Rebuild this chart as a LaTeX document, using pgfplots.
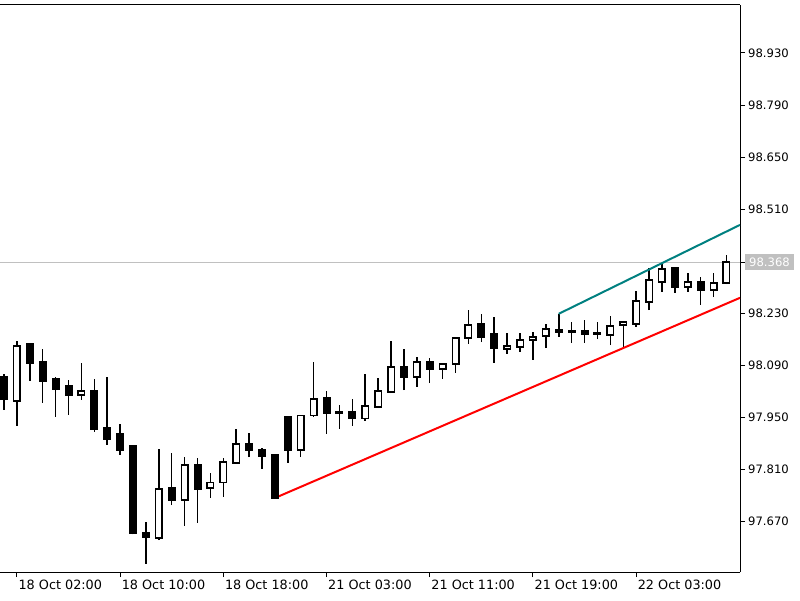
\documentclass[border=0pt]{standalone}
\usepackage{pgfplots}
\pgfplotsset{compat=1.18}
\usepackage{pgfplotstable}
\usepackage{fontspec}
\setmainfont{DejaVu Sans}
\definecolor{tealline}{RGB}{0,128,128}
\definecolor{bidgray}{RGB}{192,192,192}

\pgfplotstableread{
i open high low close
0 98.059 98.067 97.971 97.998
1 97.995 98.156 97.928 98.143
2 98.148 98.148 98.049 98.097
3 98.100 98.135 97.990 98.049
4 98.054 98.059 97.952 98.027
5 98.035 98.051 97.957 98.011
6 98.011 98.097 97.998 98.022
7 98.022 98.054 97.912 97.920
8 97.922 98.059 97.877 97.893
9 97.906 97.933 97.850 97.863
10 97.874 97.877 97.636 97.638
11 97.640 97.670 97.557 97.629
12 97.627 97.866 97.621 97.758
13 97.761 97.855 97.715 97.729
14 97.729 97.844 97.659 97.823
15 97.823 97.842 97.667 97.758
16 97.761 97.801 97.734 97.775
17 97.775 97.842 97.737 97.831
18 97.828 97.920 97.826 97.879
19 97.879 97.909 97.844 97.861
20 97.863 97.869 97.812 97.847
21 97.850 97.852 97.732 97.734
22 97.952 97.952 97.828 97.863
23 97.863 97.955 97.844 97.955
24 97.955 98.100 97.952 98.000
25 98.003 98.022 97.906 97.963
26 97.965 97.984 97.920 97.963
27 97.965 98.000 97.928 97.947
28 97.947 98.067 97.941 97.981
29 97.979 98.057 97.979 98.022
30 98.019 98.156 98.016 98.086
31 98.086 98.135 98.024 98.059
32 98.059 98.113 98.033 98.100
33 98.100 98.110 98.043 98.081
34 98.081 98.094 98.054 98.094
35 98.094 98.164 98.070 98.164
36 98.164 98.239 98.148 98.199
37 98.202 98.229 98.153 98.167
38 98.175 98.221 98.097 98.137
39 98.135 98.178 98.121 98.143
40 98.140 98.178 98.127 98.159
41 98.159 98.180 98.105 98.167
42 98.170 98.202 98.137 98.188
43 98.186 98.229 98.167 98.180
44 98.183 98.207 98.151 98.180
45 98.183 98.213 98.151 98.175
46 98.178 98.207 98.161 98.175
47 98.172 98.223 98.145 98.196
48 98.199 98.207 98.135 98.207
49 98.202 98.290 98.194 98.264
50 98.261 98.352 98.239 98.320
51 98.315 98.366 98.288 98.350
52 98.352 98.355 98.285 98.301
53 98.301 98.339 98.288 98.315
54 98.315 98.328 98.253 98.293
55 98.293 98.339 98.274 98.312
56 98.312 98.387 98.309 98.368
}\candles

\begin{document}
\begin{tikzpicture}
\useasboundingbox (0,-28pt) rectangle (800pt,572pt);
\pgfplotsset{common/.style={scale only axis, width=740pt, height=567pt,
  xmin=-0.31, xmax=57.05, ymin=97.535, ymax=99.059}}
\begin{axis}[common,
  axis x line=box, axis y line*=right,
  axis line style={black, line width=1pt},
  tick align=outside, major tick length=5pt,
  tick style={black, line width=1pt},
  xtick pos=left, ytick pos=right, yticklabel pos=right,
  xtick={1,9,17,25,33,41,49},
  xticklabels={18 Oct 02:00,18 Oct 10:00,18 Oct 18:00,21 Oct 03:00,21 Oct 11:00,21 Oct 19:00,22 Oct 03:00},
  ytick={97.67,97.81,97.95,98.09,98.23,98.51,98.65,98.79,98.93},
  yticklabels={97.670,97.810,97.950,98.090,98.230,98.510,98.650,98.790,98.930},
  x tick label style={anchor=north west, inner sep=0pt, xshift=1.5pt, yshift=-2.5pt, font=\fontsize{12.8}{14}\selectfont},
  y tick label style={anchor=west, inner sep=0pt, xshift=3pt, font=\fontsize{11.6}{13}\selectfont},
  extra y ticks={98.368}, extra y tick labels={},
  extra y tick style={grid=major, major grid style={bidgray, line width=1pt}},
]
\addplot[draw=none, mark=none, forget plot,
  error bars/.cd, y dir=plus, y explicit, error mark=none,
  error bar style={draw=black, line width=1.5pt, solid}]
  table[x=i, y=low, y error plus expr={\thisrow{high}-\thisrow{low}}]{\candles};
\addplot[red, line width=2pt, mark=none] coordinates {(21,97.734) (57.05,98.272)};
\addplot[tealline, line width=2pt, mark=none] coordinates {(43,98.229) (57.05,98.468)};
\coordinate (bid) at (axis cs:57.05,98.368);
\end{axis}
\begin{axis}[common, hide axis, ybar stacked, bar width=6.5pt]
\addplot[draw=none, fill=none] table[x=i, y expr={min(\thisrow{open},\thisrow{close})}]{\candles};
\addplot[fill=black, draw=black, line width=1.5pt] table[x=i, y expr={(\thisrow{open}>\thisrow{close})*(\thisrow{open}-\thisrow{close})}]{\candles};
\addplot[fill=white, draw=black, line width=1.5pt] table[x=i, y expr={(\thisrow{close}>=\thisrow{open})*(\thisrow{close}-\thisrow{open})}]{\candles};
\end{axis}
\node[fill=bidgray, text=white, anchor=west, inner xsep=4pt, inner ysep=3.5pt,
  font=\fontsize{11.6}{13}\selectfont] at ([xshift=5pt]bid) {98.368};
\end{tikzpicture}
\end{document}
